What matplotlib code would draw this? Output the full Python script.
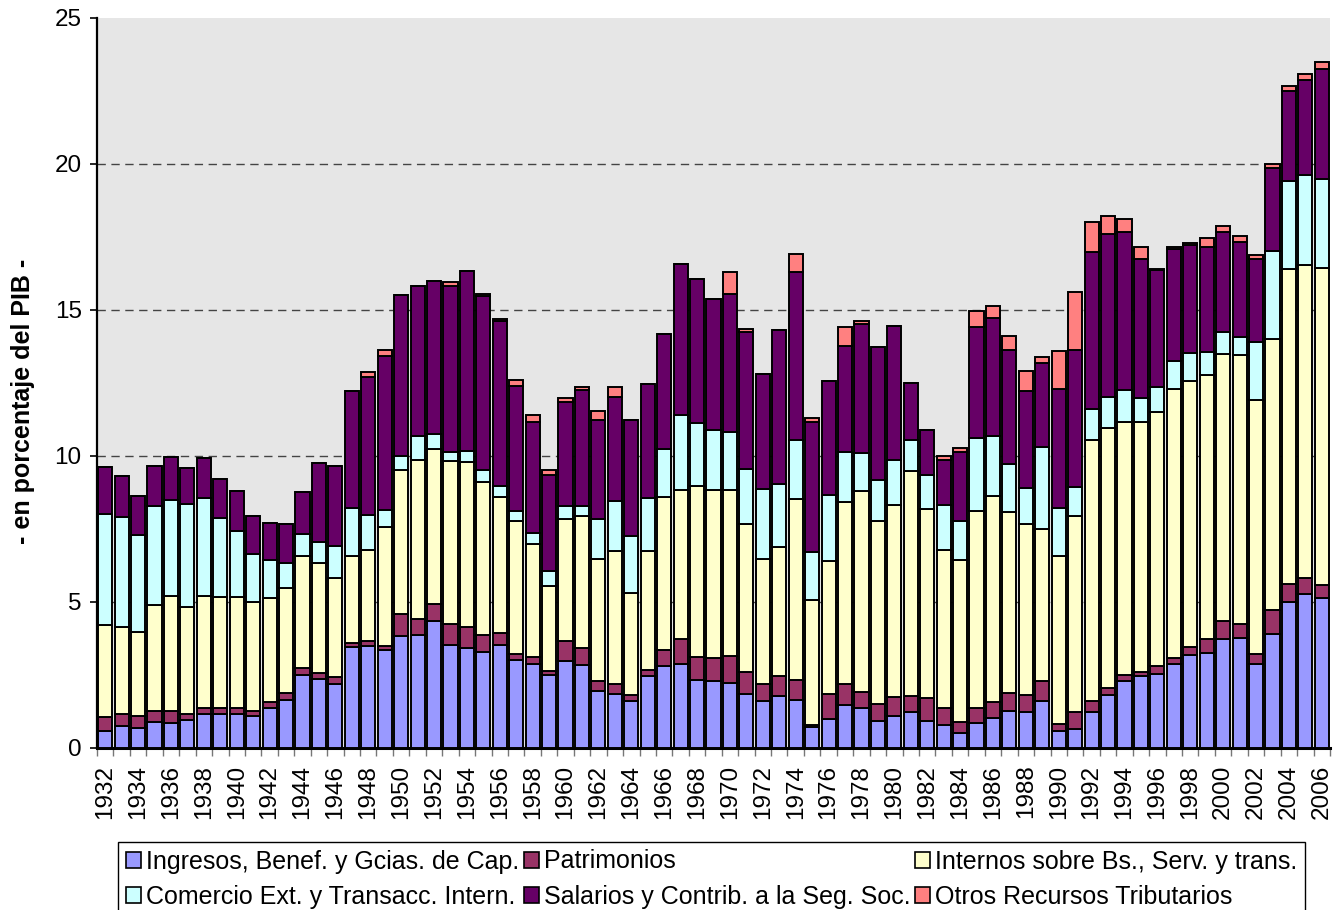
import numpy as np
import matplotlib.pyplot as plt
from matplotlib.patches import Patch

plt.rcParams.update({
    "font.family": ["Liberation Sans", "DejaVu Sans"],
    "font.size": 17,
})

years = list(range(1932, 2007))

# recaudación por tipo de tributo, en % del PIB
ingresos = [0.57, 0.74, 0.68, 0.88, 0.87, 0.96, 1.18, 1.16, 1.16, 1.08,
            1.37, 1.66, 2.51, 2.36, 2.19, 3.45, 3.50, 3.37, 3.82, 3.88,
            4.36, 3.54, 3.42, 3.29, 3.52, 3.03, 2.89, 2.51, 2.99, 2.85,
            1.94, 1.86, 1.60, 2.45, 2.80, 2.89, 2.34, 2.31, 2.24, 1.85,
            1.60, 1.77, 1.66, 0.71, 1.00, 1.48, 1.37, 0.91, 1.11, 1.22,
            0.91, 0.80, 0.52, 0.86, 1.02, 1.28, 1.24, 1.62, 0.58, 0.64,
            1.24, 1.81, 2.28, 2.45, 2.53, 2.88, 3.18, 3.27, 3.74, 3.77,
            2.88, 3.92, 5.01, 5.27, 5.12]
patrimonios = [0.49, 0.44, 0.43, 0.40, 0.41, 0.19, 0.19, 0.21, 0.20, 0.20,
               0.22, 0.22, 0.23, 0.21, 0.23, 0.15, 0.18, 0.11, 0.77, 0.54,
               0.58, 0.72, 0.71, 0.59, 0.42, 0.20, 0.23, 0.12, 0.69, 0.57,
               0.34, 0.33, 0.23, 0.23, 0.54, 0.84, 0.78, 0.77, 0.92, 0.75,
               0.59, 0.68, 0.68, 0.07, 0.86, 0.72, 0.54, 0.60, 0.63, 0.57,
               0.80, 0.57, 0.36, 0.51, 0.56, 0.59, 0.57, 0.67, 0.25, 0.60,
               0.38, 0.25, 0.22, 0.15, 0.28, 0.19, 0.28, 0.47, 0.60, 0.49,
               0.34, 0.81, 0.59, 0.54, 0.46]
internos = [3.14, 2.98, 2.87, 3.61, 3.91, 3.67, 3.85, 3.80, 3.81, 3.71,
            3.55, 3.60, 3.85, 3.77, 3.40, 2.99, 3.11, 4.09, 4.94, 5.45,
            5.31, 5.58, 5.68, 5.23, 4.66, 4.53, 3.88, 2.91, 4.16, 4.51,
            4.19, 4.57, 3.48, 4.06, 5.26, 5.11, 5.86, 5.74, 5.66, 5.07,
            4.29, 4.42, 6.20, 4.30, 4.56, 6.21, 6.90, 6.28, 6.59, 7.68,
            6.46, 5.42, 5.57, 6.73, 7.05, 6.22, 5.85, 5.21, 5.74, 6.70,
            8.94, 8.91, 8.66, 8.57, 8.71, 9.22, 9.11, 9.05, 9.16, 9.20,
            8.69, 9.27, 10.80, 10.72, 10.85]
comercio = [3.82, 3.74, 3.33, 3.41, 3.31, 3.54, 3.34, 2.71, 2.25, 1.65,
            1.30, 0.84, 0.75, 0.70, 1.09, 1.62, 1.20, 0.59, 0.48, 0.80,
            0.51, 0.29, 0.35, 0.40, 0.36, 0.36, 0.36, 0.51, 0.44, 0.37,
            1.37, 1.71, 1.94, 1.82, 1.65, 2.58, 2.15, 2.08, 1.99, 1.88,
            2.40, 2.17, 2.00, 1.62, 2.23, 1.72, 1.29, 1.38, 1.54, 1.07,
            1.17, 1.53, 1.34, 2.53, 2.05, 1.62, 1.23, 2.80, 1.65, 1.01,
            1.05, 1.05, 1.10, 0.81, 0.85, 0.97, 0.96, 0.78, 0.73, 0.62,
            2.01, 3.02, 3.03, 3.08, 3.04]
salarios = [1.60, 1.42, 1.31, 1.37, 1.47, 1.24, 1.37, 1.34, 1.39, 1.32,
            1.27, 1.36, 1.43, 2.72, 2.74, 4.00, 4.70, 5.28, 5.49, 5.14,
            5.22, 5.70, 6.16, 5.96, 5.65, 4.27, 3.80, 3.29, 3.56, 3.97,
            3.40, 3.54, 3.97, 3.91, 3.93, 5.17, 4.94, 4.49, 4.75, 4.70,
            3.93, 5.28, 5.75, 4.46, 3.92, 3.65, 4.43, 4.55, 4.58, 1.96,
            1.55, 1.54, 2.34, 3.79, 4.06, 3.92, 3.35, 2.89, 4.08, 4.68,
            5.39, 5.57, 5.41, 4.76, 4.00, 3.84, 3.69, 3.58, 3.44, 3.25,
            2.84, 2.84, 3.07, 3.27, 3.80]
otros = [0, 0, 0, 0, 0, 0, 0, 0, 0, 0,
         0, 0, 0, 0, 0, 0, 0.18, 0.18, 0, 0,
         0, 0.13, 0.03, 0.09, 0.08, 0.21, 0.26, 0.17, 0.15, 0.09,
         0.29, 0.34, 0, 0, 0, 0, 0, 0, 0.73, 0.10,
         0, 0, 0.64, 0.14, 0, 0.64, 0.11, 0, 0, 0,
         0, 0.13, 0.15, 0.54, 0.41, 0.48, 0.67, 0.19, 1.29, 2.00,
         1.01, 0.63, 0.45, 0.42, 0.03, 0.05, 0.08, 0.31, 0.21, 0.19,
         0.14, 0.14, 0.18, 0.19, 0.22]

series = [
    ("Ingresos, Benef. y Gcias. de Cap.", ingresos, "#9999FF"),
    ("Patrimonios", patrimonios, "#993366"),
    ("Internos sobre Bs., Serv. y trans.", internos, "#FFFFCC"),
    ("Comercio Ext. y Transacc. Intern.", comercio, "#CCFFFF"),
    ("Salarios y Contrib. a la Seg. Soc.", salarios, "#660066"),
    ("Otros Recursos Tributarios", otros, "#FF8080"),
]

W, H = 1337, 910
fig = plt.figure(figsize=(W / 100, H / 100), dpi=100)
ax = fig.add_axes([97 / W, 1 - 748 / H, (1330 - 97) / W, (748 - 18) / H])
ax.set_facecolor("#e6e6e6")

x = np.arange(len(years))
bottom = np.zeros(len(years))
for name, vals, color in series:
    vals = np.array(vals)
    ax.bar(x, vals, width=0.86, bottom=bottom, color=color,
           edgecolor="black", linewidth=1.4, zorder=3)
    bottom += vals

ax.set_xlim(-0.5, len(years) - 0.5)
ax.set_ylim(0, 25)
ax.set_yticks(range(0, 26, 5))
for g in (5, 10, 15, 20):
    ax.axhline(g, color="#444444", lw=1.0, ls=(0, (6, 4)), zorder=1)

# años pares como etiqueta, marcas entre barras
ax.set_xticks(x[::2])
ax.set_xticklabels([str(y) for y in years[::2]], rotation=90)
ax.set_xticks(np.arange(-0.5, len(years), 1), minor=True)
ax.tick_params(axis="x", which="major", length=0, pad=12, labelsize=17.5)
ax.tick_params(axis="x", which="minor", length=6, color="#777777", width=1)
ax.tick_params(axis="y", length=5, width=1.2, pad=6, labelsize=17.5)

for s in ("top", "right"):
    ax.spines[s].set_visible(False)
ax.spines["left"].set_linewidth(1.6)
ax.spines["bottom"].set_linewidth(2.2)

ax.set_ylabel("- en porcentaje del PIB -", fontsize=18, fontweight="bold")
ax.yaxis.set_label_coords(-0.05, 0.475)

# leyenda en 2 filas x 3 columnas
order = [0, 3, 1, 4, 2, 5]
handles = [Patch(facecolor=series[i][2], edgecolor="black", linewidth=1.2)
           for i in order]
labels = [series[i][0] for i in order]
leg = fig.legend(handles, labels, ncol=3, loc="upper left",
                 bbox_to_anchor=(118 / W, 1 - 842 / H), fontsize=18,
                 frameon=True, fancybox=False, framealpha=1,
                 edgecolor="black", borderaxespad=0, handlelength=0.6,
                 handleheight=0.6, handletextpad=0.2, columnspacing=0.2,
                 labelspacing=0.45, borderpad=0.3)
leg.get_frame().set_linewidth(1.0)

fig.savefig("out.png", dpi=100)
